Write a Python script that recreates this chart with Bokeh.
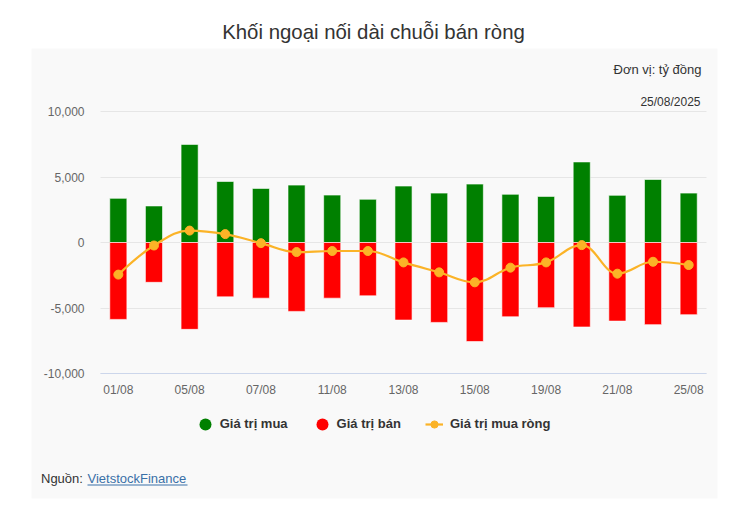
from bokeh.plotting import figure
from bokeh.models import (ColumnDataSource, FixedTicker, NumeralTickFormatter, Label,
                          BoxAnnotation, Legend, LegendItem, Range1d, LinearAxis, Grid)
from bokeh.embed import file_html
from bokeh.resources import INLINE

# Foreign investors' daily trading, VND billion
dates = ["01/08", "04/08", "05/08", "06/08", "07/08", "08/08", "11/08", "12/08", "13/08",
         "14/08", "15/08", "18/08", "19/08", "20/08", "21/08", "22/08", "25/08"]
buy = [3370, 2790, 7490, 4660, 4130, 4380, 3620, 3300, 4310,
       3770, 4460, 3680, 3520, 6150, 3600, 4810, 3770]
sell = [5870, 3040, 6630, 4150, 4250, 5260, 4250, 4070, 5920,
        6100, 7560, 5670, 4980, 6450, 6000, 6270, 5510]
net = [-2450, -230, 910, 640, -50, -730, -650, -650, -1520,
       -2280, -3040, -1920, -1520, -200, -2380, -1470, -1720]

y_min, y_max = -10000, 10000
y_ticks = [-10000, -5000, 0, 5000, 10000]
label_every = 2

FONT = "Liberation Sans"
GREEN = "#008000"
RED = "#ff0000"
ORANGE = "#fbb327"
PANEL = "#f9f9f9"

# page geometry (pixels): canvas, card and plotting area
W, H = 746, 507
AREA_L, AREA_R, AREA_T, AREA_B = 100, 706, 111, 373

n = len(dates)
xs = list(range(n))
px_per_cat = (AREA_R - AREA_L) / n
val_per_px = (y_max - y_min) / (AREA_B - AREA_T)
x_range = Range1d(-0.5 - AREA_L / px_per_cat, n - 0.5 + (W - AREA_R) / px_per_cat)
y_range = Range1d(y_min - (H - AREA_B) * val_per_px, y_max + AREA_T * val_per_px)

src = ColumnDataSource(dict(x=xs, buy=buy, sell=[-v for v in sell], net=net,
                            zero=[0] * n))

p = figure(width=W, height=H, output_backend="svg", toolbar_location=None,
           x_range=x_range, y_range=y_range, x_axis_location=None, y_axis_location=None,
           min_border=0, min_border_left=0, min_border_right=0,
           min_border_top=0, min_border_bottom=0)
p.background_fill_color = "white"
p.border_fill_color = "white"
p.outline_line_color = None
for g in p.grid:
    g.visible = False


def canvas_box(left, right, top, bottom, color, level="annotation"):
    p.add_layout(BoxAnnotation(left=left, right=right, top=top, bottom=bottom,
                               left_units="canvas", right_units="canvas",
                               top_units="canvas", bottom_units="canvas",
                               fill_color=color, fill_alpha=1, line_alpha=0, level=level))


# light grey card behind the chart
canvas_box(31, 717, 48, 498, PANEL, level="image")

# horizontal grid limited to the plotting area
grid = Grid(dimension=1, ticker=FixedTicker(ticks=y_ticks), grid_line_color="#e6e6e6",
            cross_bounds=(-0.5, n - 0.5))
p.add_layout(grid)

# buy / sell columns
p.vbar(x="x", top="buy", bottom="zero", width=0.48, source=src,
       fill_color=GREEN, line_color="white", line_alpha=0.6, line_width=1)
p.vbar(x="x", top="zero", bottom="sell", width=0.48, source=src,
       fill_color=RED, line_color="white", line_alpha=0.6, line_width=1)


# smooth net line (spline with 1.5 smoothing, control points per point)
def spline_controls(px, py):
    m = len(px)
    left = [(px[i], py[i]) for i in range(m)]
    right = [(px[i], py[i]) for i in range(m)]
    s, d = 1.5, 2.5
    for i in range(1, m - 1):
        lx, ly, nx, ny, x, y = px[i - 1], py[i - 1], px[i + 1], py[i + 1], px[i], py[i]
        lcx, lcy = (s * x + lx) / d, (s * y + ly) / d
        rcx, rcy = (s * x + nx) / d, (s * y + ny) / d
        corr = ((rcy - lcy) * (rcx - x)) / (rcx - lcx) + y - rcy
        lcy += corr
        rcy += corr
        if lcy > ly and lcy > y:
            lcy = max(ly, y); rcy = 2 * y - lcy
        elif lcy < ly and lcy < y:
            lcy = min(ly, y); rcy = 2 * y - lcy
        if rcy > ny and rcy > y:
            rcy = max(ny, y); lcy = 2 * y - rcy
        elif rcy < ny and rcy < y:
            rcy = min(ny, y); lcy = 2 * y - rcy
        left[i] = (lcx, lcy)
        right[i] = (rcx, rcy)
    return left, right


lc, rc = spline_controls(xs, net)
seg = ColumnDataSource(dict(
    x0=xs[:-1], y0=net[:-1], x1=xs[1:], y1=net[1:],
    cx0=[rc[i][0] for i in range(n - 1)], cy0=[rc[i][1] for i in range(n - 1)],
    cx1=[lc[i + 1][0] for i in range(n - 1)], cy1=[lc[i + 1][1] for i in range(n - 1)],
))
curve = p.bezier(x0="x0", y0="y0", x1="x1", y1="y1", cx0="cx0", cy0="cy0",
                 cx1="cx1", cy1="cy1", source=seg, line_color=ORANGE, line_width=2.2)
pts = p.scatter(x="x", y="net", source=src, marker="circle", size=9,
                fill_color=ORANGE, line_color=ORANGE)

# axes pinned to the plotting area's edges
yax = LinearAxis(fixed_location=-0.5, bounds=(y_min, y_max),
                 ticker=FixedTicker(ticks=y_ticks),
                 formatter=NumeralTickFormatter(format="0,0"))
yax.axis_line_color = None
yax.major_tick_line_color = None
yax.minor_tick_line_color = None
yax.major_tick_out = 0
yax.major_label_standoff = 16
yax.major_label_text_font = FONT
yax.major_label_text_font_size = "12px"
yax.major_label_text_color = "#666666"
p.add_layout(yax, "left")

xax = LinearAxis(fixed_location=y_min, bounds=(-0.5, n - 0.5),
                 ticker=FixedTicker(ticks=xs[::label_every]))
xax.major_label_overrides = {i: dates[i] for i in xs[::label_every]}
xax.axis_line_color = "#ccd6eb"
xax.axis_line_width = 1
xax.major_tick_line_color = None
xax.minor_tick_line_color = None
xax.major_tick_out = 0
xax.major_label_standoff = 9
xax.major_label_text_font = FONT
xax.major_label_text_font_size = "12px"
xax.major_label_text_color = "#666666"
p.add_layout(xax, "below")

# legend swatches: round markers of zero size in the plot, drawn full size in the legend
key_buy = p.scatter(x="x", y="buy", source=src, marker="circle", size=0,
                    fill_color=GREEN, line_color=None)
key_sell = p.scatter(x="x", y="sell", source=src, marker="circle", size=0,
                     fill_color=RED, line_color=None)

common = dict(orientation="horizontal", padding=0, margin=0, border_line_alpha=0,
              background_fill_alpha=0, label_text_font=FONT, label_text_font_size="13px",
              label_text_font_style="bold", label_text_color="#333333")
leg1 = Legend(items=[LegendItem(label="Giá trị mua", renderers=[key_buy]),
                     LegendItem(label="Giá trị bán", renderers=[key_sell])],
              location=(189.7, H - 438.7), glyph_width=30, glyph_height=30,
              label_standoff=0, spacing=19, **common)
leg2 = Legend(items=[LegendItem(label="Giá trị mua ròng", renderers=[curve, pts])],
              location=(425, H - 433.7), glyph_width=18, glyph_height=20,
              label_standoff=7, **common)
p.add_layout(leg1)
p.add_layout(leg2)


# texts
def canvas_label(text, x, y, size, color="#333333", align="left", style="normal"):
    p.add_layout(Label(x=x, y=y, x_units="canvas", y_units="canvas", text=text,
                       text_font=FONT, text_font_size=size, text_color=color,
                       text_align=align, text_baseline="middle", text_font_style=style))


canvas_label("Khối ngoại nối dài chuỗi bán ròng", 373, 31.5, "20.4px", align="center")
canvas_label("Đơn vị: tỷ đồng", 701, 69, "13px", align="right")
canvas_label("25/08/2025", 700, 101.5, "12px", align="right")
canvas_label("Nguồn: ", 40.5, 478, "13px")
canvas_label("VietstockFinance", 87, 478, "13px", color="#3a70a8")
canvas_box(87, 187, 484, 485, "#3a70a8")

open("out.html", "w").write(file_html(p, INLINE))
